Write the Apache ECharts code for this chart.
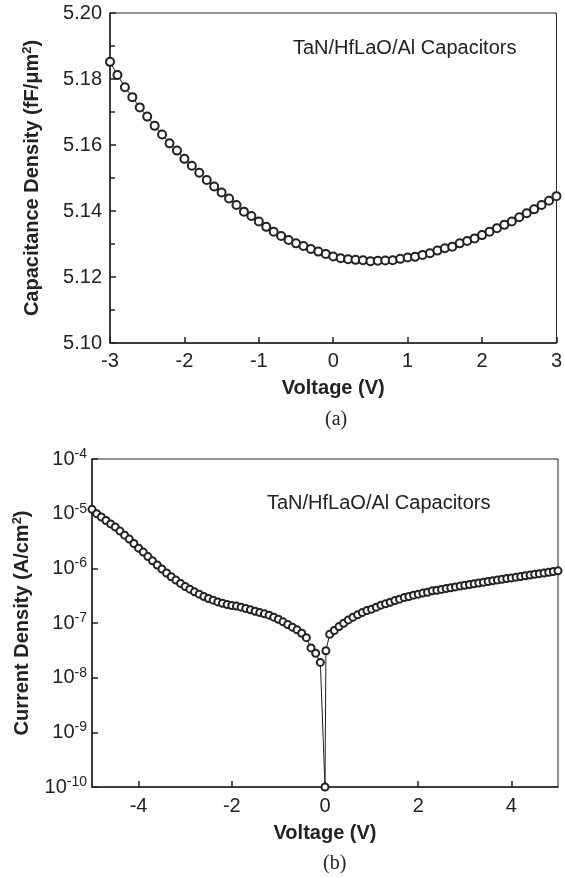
<!DOCTYPE html>
<html>
<head>
<meta charset="utf-8">
<script src="https://cdn.jsdelivr.net/npm/echarts@6/dist/echarts.min.js"></script>
<style>
  html, body { margin: 0; padding: 0; background: #fff; }
  #chart { width: 565px; height: 878px; }
</style>
</head>
<body>
<div id="chart"></div>
<script>
  // (a) C-V curve
  const voltageA = [
    -3.0, -2.9, -2.8, -2.7, -2.6, -2.5, -2.4, -2.3, -2.2, -2.1,
    -2.0, -1.9, -1.8, -1.7, -1.6, -1.5, -1.4, -1.3, -1.2, -1.1,
    -1.0, -0.9, -0.8, -0.7, -0.6, -0.5, -0.4, -0.3, -0.2, -0.1,
    0.0, 0.1, 0.2, 0.3, 0.4, 0.5, 0.6, 0.7, 0.8, 0.9,
    1.0, 1.1, 1.2, 1.3, 1.4, 1.5, 1.6, 1.7, 1.8, 1.9,
    2.0, 2.1, 2.2, 2.3, 2.4, 2.5, 2.6, 2.7, 2.8, 2.9, 3.0
  ];
  const capacitance = [
    5.1852, 5.1812, 5.1775, 5.1745, 5.1714, 5.1686, 5.1658, 5.1632, 5.1605, 5.1583,
    5.1558, 5.1537, 5.1516, 5.1494, 5.1474, 5.1456, 5.1438, 5.1418, 5.1398, 5.1385,
    5.1368, 5.1352, 5.1337, 5.1324, 5.1312, 5.1302, 5.1294, 5.1285, 5.1277, 5.1270,
    5.1262, 5.1257, 5.1254, 5.1252, 5.1251, 5.1248, 5.1249, 5.1250, 5.1251, 5.1255,
    5.1259, 5.1261, 5.1267, 5.1272, 5.1280, 5.1287, 5.1292, 5.1302, 5.1309, 5.1317,
    5.1327, 5.1337, 5.1348, 5.1358, 5.1368, 5.1381, 5.1393, 5.1405, 5.1418, 5.1431, 5.1445
  ];

  // (b) J-V curve
  const voltageB = [
    -5.0, -4.9, -4.8, -4.7, -4.6, -4.5, -4.4, -4.3, -4.2, -4.1,
    -4.0, -3.9, -3.8, -3.7, -3.6, -3.5, -3.4, -3.3, -3.2, -3.1,
    -3.0, -2.9, -2.8, -2.7, -2.6, -2.5, -2.4, -2.3, -2.2, -2.1,
    -2.0, -1.9, -1.8, -1.7, -1.6, -1.5, -1.4, -1.3, -1.2, -1.1,
    -1.0, -0.9, -0.8, -0.7, -0.6, -0.5, -0.4, -0.3, -0.2, -0.1,
    0.0, 0.02,
    0.1, 0.2, 0.3, 0.4, 0.5, 0.6, 0.7, 0.8, 0.9,
    1.0, 1.1, 1.2, 1.3, 1.4, 1.5, 1.6, 1.7, 1.8, 1.9,
    2.0, 2.1, 2.2, 2.3, 2.4, 2.5, 2.6, 2.7, 2.8, 2.9,
    3.0, 3.1, 3.2, 3.3, 3.4, 3.5, 3.6, 3.7, 3.8, 3.9,
    4.0, 4.1, 4.2, 4.3, 4.4, 4.5, 4.6, 4.7, 4.8, 4.9, 5.0
  ];
  const currentB = [
    1.2e-5, 1.0e-5, 8.7e-6, 7.5e-6, 6.5e-6, 5.7e-6, 4.8e-6, 4.05e-6, 3.43e-6, 2.85e-6,
    2.34e-6, 1.98e-6, 1.64e-6, 1.37e-6, 1.15e-6, 9.7e-7, 8.2e-7, 7.0e-7, 6.1e-7, 5.3e-7,
    4.65e-7, 4.16e-7, 3.72e-7, 3.37e-7, 3.05e-7, 2.8e-7, 2.62e-7, 2.43e-7, 2.3e-7, 2.17e-7,
    2.09e-7, 2.04e-7, 1.95e-7, 1.84e-7, 1.74e-7, 1.64e-7, 1.55e-7, 1.47e-7, 1.39e-7, 1.28e-7,
    1.17e-7, 1.05e-7, 9.4e-8, 8.4e-8, 7.5e-8, 6.5e-8, 5.4e-8, 3.5e-8, 2.8e-8, 1.9e-8,
    1e-10, 3.1e-8,
    6.2e-8, 7.3e-8, 8.6e-8, 9.9e-8, 1.14e-7, 1.28e-7, 1.41e-7, 1.55e-7, 1.69e-7,
    1.79e-7, 1.95e-7, 2.12e-7, 2.24e-7, 2.4e-7, 2.57e-7, 2.73e-7, 2.92e-7, 3.05e-7, 3.23e-7,
    3.37e-7, 3.52e-7, 3.66e-7, 3.87e-7, 3.98e-7, 4.12e-7, 4.27e-7, 4.42e-7, 4.57e-7, 4.73e-7,
    4.9e-7, 5.07e-7, 5.22e-7, 5.4e-7, 5.56e-7, 5.74e-7, 5.92e-7, 6.1e-7, 6.3e-7, 6.49e-7,
    6.68e-7, 6.89e-7, 7.1e-7, 7.31e-7, 7.53e-7, 7.76e-7, 7.98e-7, 8.22e-7, 8.47e-7, 8.75e-7, 9.0e-7
  ];

  const annotation = 'TaN/HfLaO/Al Capacitors';

  const FONT = 'Liberation Sans, Arial, Helvetica, sans-serif';
  const INK = '#222';

  function pairs(xs, ys) {
    return xs.map((x, i) => [x, ys[i]]);
  }

  const axisLine = { show: true, onZero: false, lineStyle: { color: INK, width: 1.5 } };
  const labelStyle = { color: INK, fontFamily: FONT, fontSize: 20 };
  const nameStyle = {
    color: INK,
    fontFamily: FONT,
    fontSize: 20,
    fontWeight: 'bold',
    rich: {
      sup: { fontSize: 13, fontWeight: 'bold', fontFamily: FONT, color: INK, verticalAlign: 'bottom', padding: [0, 0, 10, 0] }
    }
  };

  const instance = echarts.init(document.getElementById('chart'), null, { renderer: 'canvas' });

  const option = {
    animation: false,
    backgroundColor: '#fff',
    grid: [
      { left: 110, top: 13, width: 450, height: 330, show: true, borderColor: INK, borderWidth: 1 },
      { left: 92, top: 459, width: 466, height: 328, show: true, borderColor: INK, borderWidth: 1 }
    ],
    xAxis: [
      {
        gridIndex: 0,
        type: 'value',
        min: -3,
        max: 3,
        interval: 1,
        name: 'Voltage (V)',
        nameLocation: 'middle',
        nameGap: 35,
        nameTextStyle: nameStyle,
        axisLine: axisLine,
        axisTick: { inside: true, length: 6, lineStyle: { color: INK, width: 1.5 } },
        axisLabel: Object.assign({ margin: 8 }, labelStyle),
        splitLine: { show: false }
      },
      {
        gridIndex: 1,
        type: 'value',
        min: -5,
        max: 5,
        splitNumber: 5,
        name: 'Voltage (V)',
        nameLocation: 'middle',
        nameGap: 36,
        nameTextStyle: nameStyle,
        axisLine: axisLine,
        axisTick: { inside: true, length: 6, lineStyle: { color: INK, width: 1.5 } },
        axisLabel: Object.assign({ margin: 9, showMinLabel: false, showMaxLabel: false }, labelStyle),
        splitLine: { show: false }
      }
    ],
    yAxis: [
      {
        gridIndex: 0,
        type: 'value',
        min: 5.10,
        max: 5.20,
        interval: 0.02,
        name: 'Capacitance Density (fF/\u03bcm{sup|2})',
        nameLocation: 'middle',
        nameGap: 66,
        nameTextStyle: nameStyle,
        axisLine: axisLine,
        axisTick: { inside: true, length: 6, lineStyle: { color: INK, width: 1.5 } },
        minorTick: { show: true, splitNumber: 2, length: 5, lineStyle: { color: INK, width: 1.5 } },
        axisLabel: Object.assign({ margin: 8, formatter: (v) => v.toFixed(2) }, labelStyle),
        splitLine: { show: false }
      },
      {
        gridIndex: 1,
        type: 'log',
        logBase: 10,
        min: 1e-10,
        max: 1e-4,
        name: 'Current Density (A/cm{sup|2})',
        nameLocation: 'middle',
        nameGap: 58,
        nameTextStyle: nameStyle,
        axisLine: axisLine,
        axisTick: { inside: true, length: 6, lineStyle: { color: INK, width: 1.5 } },
        axisLabel: {
          margin: 5,
          color: INK,
          fontFamily: FONT,
          fontSize: 20,
          formatter: (v) => '10{sup|' + Math.round(Math.log10(v)) + '}',
          rich: {
            sup: { fontSize: 14, fontFamily: FONT, color: INK, verticalAlign: 'bottom', padding: [0, 0, 10, 0] }
          }
        },
        splitLine: { show: false }
      }
    ],
    graphic: [
      { type: 'text', left: 293, top: 38, style: { text: annotation, font: '20px ' + FONT, fill: INK } },
      { type: 'text', left: 267, top: 493, style: { text: annotation, font: '20px ' + FONT, fill: INK } },
      { type: 'text', left: 325, top: 410, style: { text: '(a)', font: '20px Liberation Serif, Times New Roman, serif', fill: INK } },
      { type: 'text', left: 323, top: 854, style: { text: '(b)', font: '20px Liberation Serif, Times New Roman, serif', fill: INK } }
    ],
    series: [
      {
        type: 'line',
        xAxisIndex: 0,
        yAxisIndex: 0,
        data: pairs(voltageA, capacitance),
        symbol: 'emptyCircle',
        symbolSize: 8,
        showAllSymbol: true,
        itemStyle: { color: INK, borderWidth: 1 },
        lineStyle: { color: INK, width: 1 }
      },
      {
        type: 'line',
        xAxisIndex: 1,
        yAxisIndex: 1,
        data: pairs(voltageB, currentB),
        symbol: 'emptyCircle',
        symbolSize: 7,
        showAllSymbol: true,
        itemStyle: { color: INK, borderWidth: 1 },
        lineStyle: { color: INK, width: 1 }
      }
    ]
  };

  instance.setOption(option);
</script>
</body>
</html>
